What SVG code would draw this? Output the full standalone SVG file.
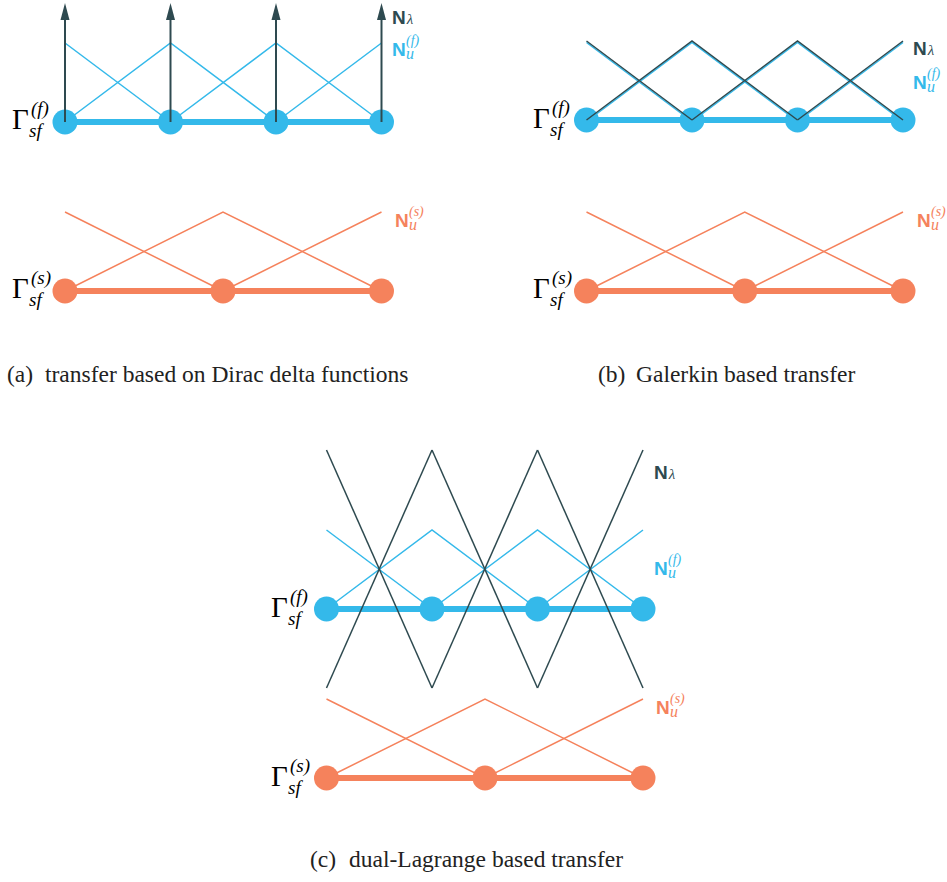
<svg xmlns="http://www.w3.org/2000/svg" width="947" height="882" viewBox="0 0 947 882">
<style>
.bg{fill:#ffffff}
.fl{fill:none;stroke:#34b9ea;stroke-width:1.5}
.sl{fill:none;stroke:#f5825c;stroke-width:1.5}
.dl{fill:none;stroke:#2e4a50;stroke-width:1.5}
.arr{stroke:#2e4a50;stroke-width:2}
.fthick{stroke:#34b9ea;stroke-width:6}
.sthick{stroke:#f5825c;stroke-width:6}
.fn{fill:#34b9ea}
.sn{fill:#f5825c}
.ah{fill:#2e4a50}
.g{font-family:"Liberation Serif","Times New Roman",serif;fill:#000}
.gb{font-size:29px}
.gs{font-size:19px;font-style:italic}
.N{font-family:"Liberation Sans",Arial,sans-serif;font-weight:bold;font-size:19px}
.ni{font-family:"Liberation Serif","Times New Roman",serif;font-style:italic;font-weight:normal}
.cap{font-family:"Liberation Serif","Times New Roman",serif;font-size:23.5px;fill:#222}
.cd{fill:#2e4a50}.cb{fill:#34b9ea}.co{fill:#f5825c}
</style>
<rect class="bg" x="0" y="0" width="947" height="882"/>

<!-- Panel (a) -->
<g id="panel-a">
  <g id="a-connectors">
    <polyline class="fl" points="65,43 170.5,122"/>
    <polyline class="fl" points="65,122 170.5,43 276,122"/>
    <polyline class="fl" points="170.5,122 276,43 381.5,122"/>
    <polyline class="fl" points="276,122 381.5,43"/>
    <line class="fthick" x1="65" y1="122" x2="381.5" y2="122"/>
    <polyline class="sl" points="65,212 223,291"/>
    <polyline class="sl" points="65,291 223,212 381.5,291"/>
    <polyline class="sl" points="223,291 381.5,212"/>
    <line class="sthick" x1="65" y1="291" x2="381.5" y2="291"/>
  </g>
  <g id="a-f1"><circle class="fn" cx="65" cy="122" r="12.5"/></g>
  <g id="a-f2"><circle class="fn" cx="170.5" cy="122" r="12.5"/></g>
  <g id="a-f3"><circle class="fn" cx="276" cy="122" r="12.5"/></g>
  <g id="a-f4"><circle class="fn" cx="381.5" cy="122" r="12.5"/></g>
  <g id="a-s1"><circle class="sn" cx="65" cy="291" r="12.5"/></g>
  <g id="a-s2"><circle class="sn" cx="223" cy="291" r="12.5"/></g>
  <g id="a-s3"><circle class="sn" cx="381.5" cy="291" r="12.5"/></g>
  <g id="a-arrows">
    <line class="arr" x1="65" y1="122" x2="65" y2="18"/><polygon class="ah" points="65,3 60.5,20 69.5,20"/>
    <line class="arr" x1="170.5" y1="122" x2="170.5" y2="18"/><polygon class="ah" points="170.5,3 166,20 175,20"/>
    <line class="arr" x1="276" y1="122" x2="276" y2="18"/><polygon class="ah" points="276,3 271.5,20 280.5,20"/>
    <line class="arr" x1="381.5" y1="122" x2="381.5" y2="18"/><polygon class="ah" points="381.5,3 377,20 386,20"/>
  </g>
  <text class="N cd" x="392" y="24">N<tspan class="ni" font-size="15" dx="1">λ</tspan></text>
  <text class="N cb" x="392" y="56">N<tspan class="ni" font-size="16" x="406" y="59">u</tspan><tspan class="ni" font-size="14" x="406" y="45">(f)</tspan></text>
  <text class="N co" x="395" y="227">N<tspan class="ni" font-size="16" x="409" y="230">u</tspan><tspan class="ni" font-size="14" x="409" y="216">(s)</tspan></text>
  <text class="g" x="12" y="129"><tspan class="gb">Γ</tspan><tspan class="gs" x="31" y="115">(f)</tspan><tspan class="gs" x="29" y="137">sf</tspan></text>
  <text class="g" x="12" y="298"><tspan class="gb">Γ</tspan><tspan class="gs" x="31" y="284">(s)</tspan><tspan class="gs" x="29" y="306">sf</tspan></text>
</g>

<!-- Panel (b) -->
<g id="panel-b">
  <g id="b-connectors">
    <polyline class="fl" points="586.5,42.5 692,121.5"/>
    <polyline class="fl" points="586.5,121.5 692,42.5 797.5,121.5"/>
    <polyline class="fl" points="692,121.5 797.5,42.5 903,121.5"/>
    <polyline class="fl" points="797.5,121.5 903,42.5"/>
    <line class="fthick" x1="586.5" y1="120" x2="903" y2="120"/>
    <polyline class="sl" points="586.5,212 744.75,291"/>
    <polyline class="sl" points="586.5,291 744.75,212 903,291"/>
    <polyline class="sl" points="744.75,291 903,212"/>
    <line class="sthick" x1="586.5" y1="291" x2="903" y2="291"/>
  </g>
  <g id="b-f1"><circle class="fn" cx="586.5" cy="120" r="12.5"/></g>
  <g id="b-f2"><circle class="fn" cx="692" cy="120" r="12.5"/></g>
  <g id="b-f3"><circle class="fn" cx="797.5" cy="120" r="12.5"/></g>
  <g id="b-f4"><circle class="fn" cx="903" cy="120" r="12.5"/></g>
  <g id="b-s1"><circle class="sn" cx="586.5" cy="291" r="12.5"/></g>
  <g id="b-s2"><circle class="sn" cx="744.75" cy="291" r="12.5"/></g>
  <g id="b-s3"><circle class="sn" cx="903" cy="291" r="12.5"/></g>
  <g id="b-dual">
    <polyline class="dl" points="586.5,41 692,120"/>
    <polyline class="dl" points="586.5,120 692,41 797.5,120"/>
    <polyline class="dl" points="692,120 797.5,41 903,120"/>
    <polyline class="dl" points="797.5,120 903,41"/>
  </g>
  <text class="N cd" x="913" y="55">N<tspan class="ni" font-size="15" dx="1">λ</tspan></text>
  <text class="N cb" x="913" y="89">N<tspan class="ni" font-size="16" x="927" y="92">u</tspan><tspan class="ni" font-size="14" x="927" y="78">(f)</tspan></text>
  <text class="N co" x="917" y="227">N<tspan class="ni" font-size="16" x="931" y="230">u</tspan><tspan class="ni" font-size="14" x="931" y="216">(s)</tspan></text>
  <text class="g" x="533" y="128"><tspan class="gb">Γ</tspan><tspan class="gs" x="552" y="114">(f)</tspan><tspan class="gs" x="550" y="136">sf</tspan></text>
  <text class="g" x="533" y="298"><tspan class="gb">Γ</tspan><tspan class="gs" x="552" y="284">(s)</tspan><tspan class="gs" x="550" y="306">sf</tspan></text>
</g>

<!-- Panel (c) -->
<g id="panel-c">
  <g id="c-connectors">
    <polyline class="fl" points="326.5,530 432,609"/>
    <polyline class="fl" points="326.5,609 432,530 537.5,609"/>
    <polyline class="fl" points="432,609 537.5,530 643,609"/>
    <polyline class="fl" points="537.5,609 643,530"/>
    <line class="fthick" x1="326.5" y1="609" x2="643" y2="609"/>
    <polyline class="sl" points="326.5,699 485,778"/>
    <polyline class="sl" points="326.5,778 485,699 643,778"/>
    <polyline class="sl" points="485,778 643,699"/>
    <line class="sthick" x1="326.5" y1="778" x2="643" y2="778"/>
  </g>
  <g id="c-f1"><circle class="fn" cx="326.5" cy="609" r="12.5"/></g>
  <g id="c-f2"><circle class="fn" cx="432" cy="609" r="12.5"/></g>
  <g id="c-f3"><circle class="fn" cx="537.5" cy="609" r="12.5"/></g>
  <g id="c-f4"><circle class="fn" cx="643" cy="609" r="12.5"/></g>
  <g id="c-s1"><circle class="sn" cx="326.5" cy="778" r="12.5"/></g>
  <g id="c-s2"><circle class="sn" cx="485" cy="778" r="12.5"/></g>
  <g id="c-s3"><circle class="sn" cx="643" cy="778" r="12.5"/></g>
  <g id="c-dual">
    <line class="dl" x1="326.5" y1="450" x2="432" y2="688"/>
    <line class="dl" x1="326.5" y1="688" x2="432" y2="450"/>
    <line class="dl" x1="432" y1="450" x2="537.5" y2="688"/>
    <line class="dl" x1="432" y1="688" x2="537.5" y2="450"/>
    <line class="dl" x1="537.5" y1="450" x2="643" y2="688"/>
    <line class="dl" x1="537.5" y1="688" x2="643" y2="450"/>
  </g>
  <text class="N cd" x="654" y="479">N<tspan class="ni" font-size="15" dx="1">λ</tspan></text>
  <text class="N cb" x="654" y="575">N<tspan class="ni" font-size="16" x="668" y="578">u</tspan><tspan class="ni" font-size="14" x="668" y="564">(f)</tspan></text>
  <text class="N co" x="656" y="714">N<tspan class="ni" font-size="16" x="670" y="717">u</tspan><tspan class="ni" font-size="14" x="670" y="703">(s)</tspan></text>
  <text class="g" x="271" y="617"><tspan class="gb">Γ</tspan><tspan class="gs" x="290" y="603">(f)</tspan><tspan class="gs" x="288" y="625">sf</tspan></text>
  <text class="g" x="271" y="786"><tspan class="gb">Γ</tspan><tspan class="gs" x="290" y="772">(s)</tspan><tspan class="gs" x="288" y="794">sf</tspan></text>
</g>

<!-- Captions -->
<text class="cap" x="7" y="382">(a)</text>
<text class="cap" x="45" y="382">transfer based on Dirac delta functions</text>
<text class="cap" x="598" y="382">(b)</text>
<text class="cap" x="636" y="382">Galerkin based transfer</text>
<text class="cap" x="310" y="867">(c)</text>
<text class="cap" x="349" y="867">dual-Lagrange based transfer</text>
</svg>
